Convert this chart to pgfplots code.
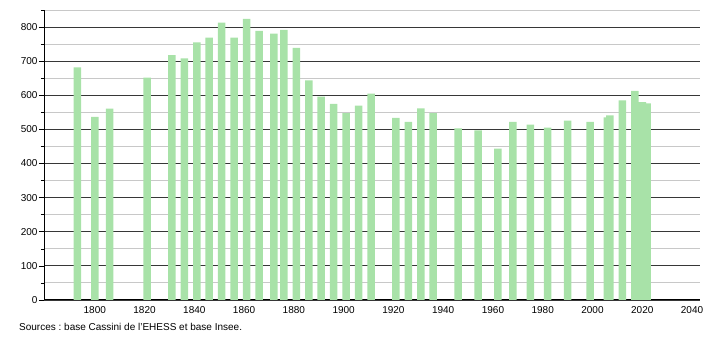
\documentclass[border=0pt]{standalone}
\usepackage{pgfplots}
\pgfplotsset{compat=1.18}
\usepackage{fontspec}
\setmainfont{Liberation Sans}
\frenchspacing
\definecolor{barg}{RGB}{168,226,168}
\definecolor{majg}{RGB}{55,55,55}
\definecolor{ming}{RGB}{200,200,200}
\begin{document}
\begin{tikzpicture}[x=1pt,y=1pt]
\useasboundingbox (0,0) rectangle (710,340);
\begin{axis}[
  at={(44pt,40pt)}, anchor=south west,
  scale only axis, width=656pt, height=290pt,
  xmin=1779.6, xmax=2043.2, ymin=0, ymax=850,
  axis lines*=left,
  axis line style={black, line width=1pt},
  xtick={1800,1820,...,2040},
  ytick={0,100,...,800},
  minor ytick={50,150,...,850},
  xtick style={draw=none},
  ytick style={black, line width=0.6pt},
  minor tick style={black, line width=0.6pt},
  tick align=outside,
  major tick length=5pt, minor tick length=3pt,
  ymajorgrids, yminorgrids,
  major grid style={majg, line width=0.9pt},
  minor grid style={ming, line width=0.9pt},
  tick label style={font=\fontsize{10}{12}\selectfont},
  xticklabel style={yshift=2pt},
  yticklabel style={xshift=2pt},
  /pgf/number format/assume math mode=true,
  /pgf/number format/1000 sep={},
  clip=false,
]
\addplot[ybar, bar width=7.5pt, fill=barg, draw=none] coordinates {
(1793,682) (1800,537) (1806,561) (1821,652) (1831,718) (1836,708)
(1841,755) (1846,769) (1851,813) (1856,769) (1861,824) (1866,789)
(1872,781) (1876,792) (1881,739) (1886,644) (1891,596) (1896,575)
(1901,548) (1906,570) (1911,605) (1921,534) (1926,522) (1931,562)
(1936,548) (1946,503) (1954,497) (1962,444) (1968,522) (1975,514)
(1982,505) (1990,526) (1999,522) (2006,535) (2007,541) (2012,585)
(2017,613) (2020,580) (2022,576)
};
\end{axis}
\node[anchor=west, font=\fontsize{10}{12}\selectfont, inner sep=0pt] at (19,13) {Sources : base Cassini de l'EHESS et base Insee.};
\end{tikzpicture}
\end{document}
